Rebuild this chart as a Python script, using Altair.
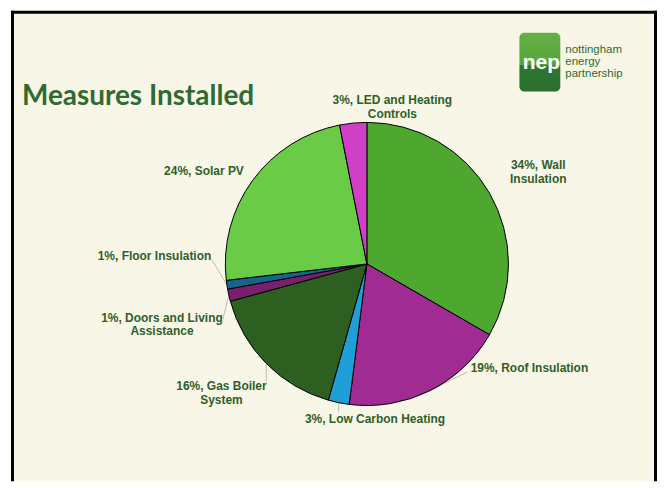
import altair as alt
import pandas as pd

# ---------------- data ----------------
categories = [
    "Wall Insulation", "Roof Insulation", "Low Carbon Heating", "Gas Boiler System",
    "Doors and Living Assistance", "Floor Insulation", "Solar PV", "LED and Heating Controls",
]
shares = [33.4, 18.7, 2.4, 16.4, 1.4, 1.0, 23.8, 3.1]
labels = [
    "34%, Wall\nInsulation", "19%, Roof Insulation", "3%, Low Carbon Heating",
    "16%, Gas Boiler\nSystem", "1%, Doors and Living\nAssistance", "1%, Floor Insulation",
    "24%, Solar PV", "3%, LED and Heating\nControls",
]
colors = ["#4EA72E", "#A02B93", "#1F9FD8", "#2D6020", "#7A1E6E", "#13668A", "#6ACB46", "#D03FC5"]

df = pd.DataFrame({"category": categories, "share": shares, "label": labels,
                   "order": list(range(len(categories)))})

# ---------------- layout / style ----------------
W, H = 651, 472
CX, CY = 360, 254          # pie centre (chart pixels)
R = 142                    # pie radius
LABEL_R = 180
LABEL_COLOR = "#2F5E2A"
nudges = {                  # label offsets from the mid-angle position
    "Wall Insulation": (16, -9),
    "Roof Insulation": (83, -57),
    "Low Carbon Heating": (44, -21),
    "Gas Boiler System": (-18, -4),
    "Doors and Living Assistance": (-30, 14),
    "Floor Insulation": (-35, -34),
    "Solar PV": (-18, 13),
    "LED and Heating Controls": (43, 15),
}
leaders = {                 # leader line: from slice edge (mid-angle) by this offset
    "Roof Insulation": (38, -19),
    "Low Carbon Heating": (0, 10),
    "Gas Boiler System": (0, 17),
    "Doors and Living Assistance": (-6, 24),
    "Floor Insulation": (-15, -25),
}

one = pd.DataFrame({"a": [0]})

panel = alt.Chart(one).mark_rect(color="#F8F6E7").encode(
    x=alt.value(4), x2=alt.value(W - 1), y=alt.value(1), y2=alt.value(H))
frame = alt.layer(
    alt.Chart(one).mark_rule(color="black", strokeWidth=3).encode(
        x=alt.value(4.5), y=alt.value(0), y2=alt.value(H)),
    alt.Chart(one).mark_rule(color="black", strokeWidth=3).encode(
        x=alt.value(W - 1.5), y=alt.value(0), y2=alt.value(H)),
    alt.Chart(one).mark_rule(color="black", strokeWidth=3).encode(
        x=alt.value(3), x2=alt.value(W), y=alt.value(1.5)),
)

base = alt.Chart(df).encode(
    theta=alt.Theta("share:Q", stack=True),
    order=alt.Order("order:Q", sort="ascending"),
)

pie = base.mark_arc(outerRadius=R, stroke="black", strokeWidth=1).encode(
    color=alt.Color("category:N", scale=alt.Scale(domain=categories, range=colors), legend=None),
    x=alt.value(CX), y=alt.value(CY),
)

text_layers = []
for cat, (dx, dy) in nudges.items():
    text_layers.append(
        base.mark_text(radius=LABEL_R, dx=dx, dy=dy, font="Liberation Sans", fontWeight="bold",
                       fontSize=12, color=LABEL_COLOR, lineBreak="\n", lineHeight=14,
                       align="center", baseline="middle").encode(
            text=alt.condition(alt.datum.category == cat, alt.Text("label:N"), alt.value("")),
            x=alt.value(CX), y=alt.value(CY),
        )
    )

edge = alt.Chart(df).transform_joinaggregate(total="sum(share)").transform_window(
    cum="sum(share)", sort=[alt.SortField("order", order="ascending")], frame=[None, 0]
).transform_calculate(
    ang="2 * PI * (datum.cum - datum.share / 2) / datum.total"
).transform_calculate(
    px=f"{CX} + {R} * sin(datum.ang)", py=f"{CY} - {R} * cos(datum.ang)"
)
leader_layers = []
for cat, (lx, ly) in leaders.items():
    leader_layers.append(
        edge.transform_filter(alt.datum.category == cat).transform_calculate(
            qx=f"datum.px + ({lx})", qy=f"datum.py + ({ly})"
        ).mark_rule(color="#BDBDB2", strokeWidth=1).encode(
            x=alt.X("px:Q", scale=None), y=alt.Y("py:Q", scale=None),
            x2="qx:Q", y2="qy:Q",
        )
    )

title = alt.Chart(one).mark_text(text="Measures Installed", font="Lato", fontWeight="bold",
                                 fontSize=28, color="#2E6B33", align="left",
                                 baseline="alphabetic").encode(x=alt.value(14), y=alt.value(95))

logo_box = alt.Chart(one).mark_rect(
    cornerRadius=5,
    fill=alt.LinearGradient(gradient="linear", x1=0, y1=0, x2=0, y2=1, stops=[
        alt.GradientStop(color="#63B046", offset=0),
        alt.GradientStop(color="#58A63B", offset=0.55),
        alt.GradientStop(color="#2F7530", offset=0.56),
        alt.GradientStop(color="#2C6F2D", offset=1),
    ])).encode(x=alt.value(513), x2=alt.value(554), y=alt.value(22), y2=alt.value(81))
logo_nep = alt.Chart(one).mark_text(text="nep", font="Liberation Sans", fontWeight="bold",
                                    fontSize=21, color="white", align="center",
                                    baseline="alphabetic").encode(x=alt.value(535), y=alt.value(58))
logo_words = [("nottingham", 42), ("energy", 54), ("partnership", 66)]
logo_text = [alt.Chart(one).mark_text(text=w, font="Liberation Sans", fontSize=11.5,
                                      color="#2E6B2E", align="left", baseline="alphabetic").encode(
    x=alt.value(559), y=alt.value(yy)) for w, yy in logo_words]

chart = alt.layer(panel, frame, *leader_layers, pie, *text_layers, title, logo_box, logo_nep,
                  *logo_text).properties(
    width=W, height=H, padding=0, background="white"
).configure_view(stroke=None)

chart.save("out.html", embed_options={"renderer": "svg", "actions": False})
